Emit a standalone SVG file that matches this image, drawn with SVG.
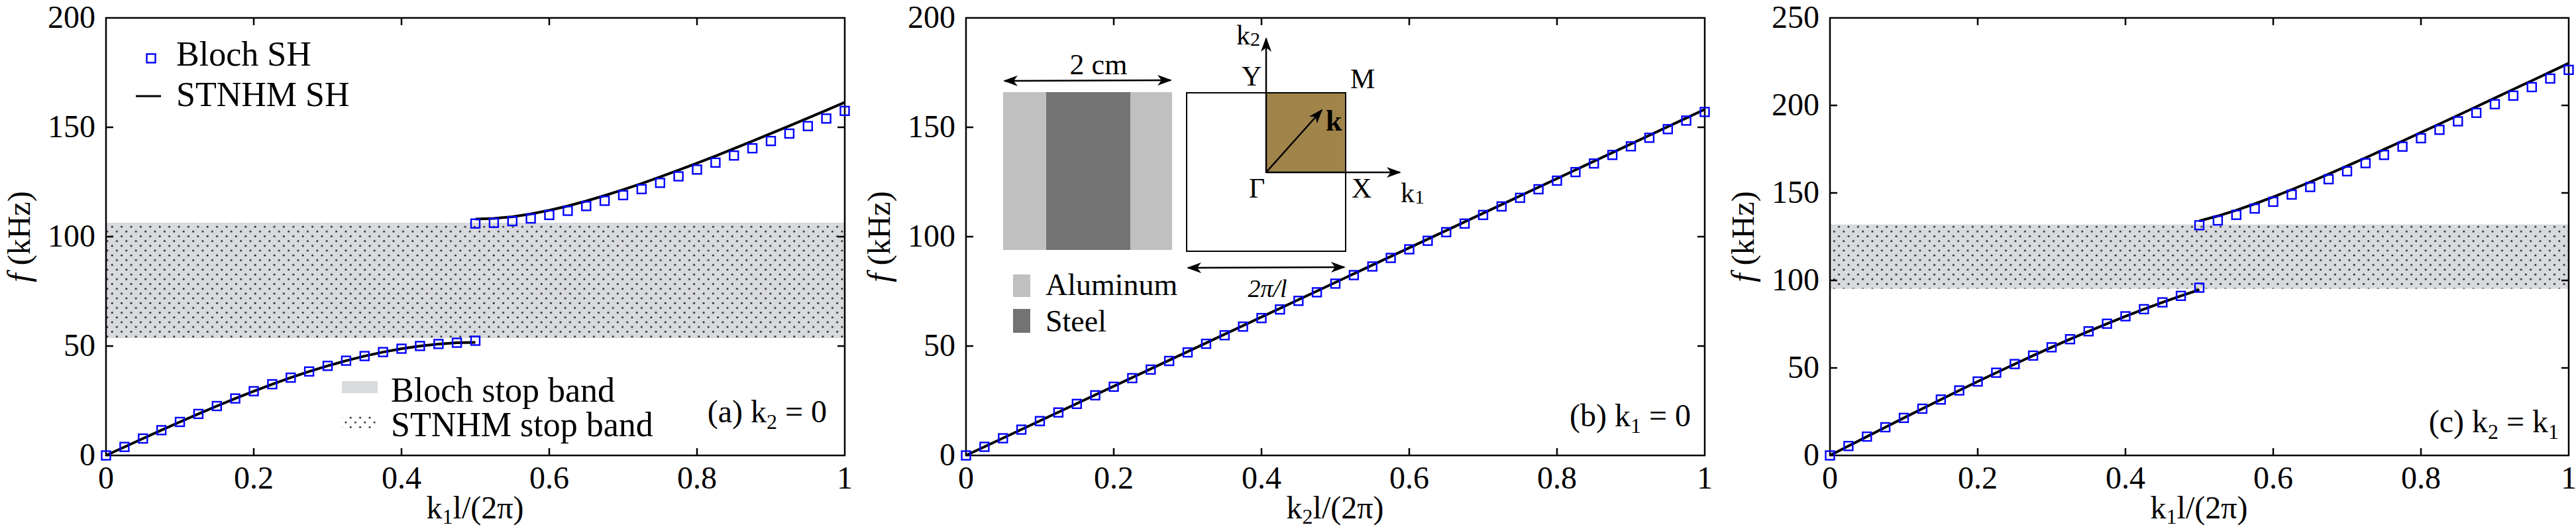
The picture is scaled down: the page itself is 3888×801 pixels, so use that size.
<svg xmlns="http://www.w3.org/2000/svg" width="3888" height="801" viewBox="0 0 3888 801" font-family="'Liberation Serif', 'Times New Roman', 'DejaVu Serif', serif">
<style>
text{font-family:'Liberation Serif','Times New Roman','DejaVu Serif',serif;fill:#000}
.t{font-size:48px}
.lg{font-size:52px}
.ax{fill:none;stroke:#000;stroke-width:2.5}
.tk{stroke:#000;stroke-width:2.5}
.cv{fill:none;stroke:#000;stroke-width:4}
.bl{fill:none;stroke:none;marker-start:url(#sq);marker-mid:url(#sq);marker-end:url(#sq)}
.yl{text-anchor:end}
.xl{text-anchor:middle}
</style>
<defs>
<marker id="sq" markerUnits="userSpaceOnUse" markerWidth="18" markerHeight="18" refX="9" refY="9" viewBox="0 0 18 18"><rect x="2.5" y="2.5" width="13" height="13" fill="none" stroke="#0000ff" stroke-width="2.4"/></marker>
<marker id="ah" markerUnits="userSpaceOnUse" markerWidth="22" markerHeight="16" refX="20" refY="8" orient="auto-start-reverse" viewBox="0 0 22 16"><path d="M0,0 L22,8 L0,16 L6,8 Z" fill="#000"/></marker>
<pattern id="dots" width="14.4" height="14.4" patternUnits="userSpaceOnUse"><circle cx="3.6" cy="3.6" r="1.5" fill="#222"/><circle cx="10.8" cy="10.8" r="1.5" fill="#222"/></pattern>
</defs>

<!-- Panel a -->
<g id="panel-a">
<rect x="160" y="336" width="1115" height="174" fill="#d8dadd"/>
<rect x="160" y="336" width="1115" height="174" fill="url(#dots)"/>
<rect class="ax" x="160" y="27" width="1115" height="660"/>
<path class="tk" d="M160,522h11M160,357h11M160,192h11M1275,522h-11M1275,357h-11M1275,192h-11M383,687v-11M606,687v-11M829,687v-11M1052,687v-11M383,27v11M606,27v11M829,27v11M1052,27v11"/>
<text class="t yl" x="144" y="702">0</text><text class="t yl" x="144" y="537">50</text><text class="t yl" x="144" y="372">100</text><text class="t yl" x="144" y="207">150</text><text class="t yl" x="144" y="42">200</text>
<text class="t xl" x="160" y="737">0</text><text class="t xl" x="383" y="737">0.2</text><text class="t xl" x="606" y="737">0.4</text><text class="t xl" x="829" y="737">0.6</text><text class="t xl" x="1052" y="737">0.8</text><text class="t xl" x="1275" y="737">1</text>
<text class="t xl" x="717" y="782">k<tspan font-size="32" dy="8">1</tspan><tspan dy="-8">l/(2π)</tspan></text>
<text class="t xl" transform="translate(45,357) rotate(-90)"><tspan font-style="italic">f</tspan> (kHz)</text>
<text class="t" x="1248" y="637" text-anchor="end">(a) k<tspan font-size="32" dy="10">2</tspan><tspan dy="-10"> = 0</tspan></text>
<polyline class="cv" points="160,687 187.9,674.2 215.8,661.5 243.6,648.9 271.5,636.5 299.4,624.4 327.3,612.5 355.1,601.1 383,590.1 410.9,579.6 438.8,569.7 466.6,560.4 494.5,551.9 522.4,544.1 550.3,537.1 578.1,531.1 606,526 633.9,521.9 661.8,518.9 689.6,517 717.5,516.4"/>
<polyline class="bl" points="160,687 187.9,674.2 215.8,661.5 243.6,648.9 271.5,636.5 299.4,624.4 327.3,612.5 355.1,601.1 383,590.1 410.9,579.6 438.8,569.7 466.6,560.4 494.5,551.9 522.4,544.1 550.3,537.1 578.1,531.1 606,526 633.9,521.9 661.8,518.9 689.6,517 717.5,514"/>
<polyline class="cv" points="717.5,330.6 745.4,329.6 773.3,326.9 801.1,322.7 829,317.2 856.9,310.7 884.8,303.2 912.6,295 940.5,286.2 968.4,276.8 996.3,266.9 1024.1,256.7 1052,246.1 1079.9,235.3 1107.8,224.2 1135.6,212.9 1163.5,201.4 1191.4,189.8 1219.3,178.1 1247.1,166.3 1275,154.3"/>
<polyline class="bl" points="717.5,337.2 745.4,336.2 773.3,333.6 801.1,329.6 829,324.3 856.9,318 884.8,310.8 912.6,302.9 940.5,294.4 968.4,285.3 996.3,275.8 1024.1,266 1052,255.8 1079.9,245.3 1107.8,234.6 1135.6,223.7 1163.5,212.7 1191.4,201.5 1219.3,190.2 1247.1,178.8 1275,167.3"/>
<g id="legend-a">
<polyline class="bl" points="228,88"/>
<text class="lg" x="266" y="99">Bloch SH</text>
<line x1="205" y1="145" x2="243" y2="145" stroke="#000" stroke-width="3"/>
<text class="lg" x="266" y="160">STNHM SH</text>
<rect x="516" y="575" width="54" height="18" fill="#d8dadd"/>
<text class="lg" x="590" y="606">Bloch stop band</text>
<rect x="516" y="626" width="54" height="20" fill="url(#dots)"/>
<text class="lg" x="590" y="658">STNHM stop band</text>
</g>
</g>

<!-- Panel b -->
<g id="panel-b">
<rect class="ax" x="1458" y="27" width="1115" height="660"/>
<path class="tk" d="M1458,522h11M1458,357h11M1458,192h11M2573,522h-11M2573,357h-11M2573,192h-11M1681,687v-11M1904,687v-11M2127,687v-11M2350,687v-11M1681,27v11M1904,27v11M2127,27v11M2350,27v11"/>
<text class="t yl" x="1442" y="702">0</text><text class="t yl" x="1442" y="537">50</text><text class="t yl" x="1442" y="372">100</text><text class="t yl" x="1442" y="207">150</text><text class="t yl" x="1442" y="42">200</text>
<text class="t xl" x="1458" y="737">0</text><text class="t xl" x="1681" y="737">0.2</text><text class="t xl" x="1904" y="737">0.4</text><text class="t xl" x="2127" y="737">0.6</text><text class="t xl" x="2350" y="737">0.8</text><text class="t xl" x="2573" y="737">1</text>
<text class="t xl" x="2015" y="782">k<tspan font-size="32" dy="8">2</tspan><tspan dy="-8">l/(2π)</tspan></text>
<text class="t xl" transform="translate(1343,357) rotate(-90)"><tspan font-style="italic">f</tspan> (kHz)</text>
<text class="t" x="2552" y="643" text-anchor="end">(b) k<tspan font-size="32" dy="10">1</tspan><tspan dy="-10"> = 0</tspan></text>
<line class="cv" x1="1458" y1="687" x2="2573" y2="165"/>
<polyline class="bl" points="1458,687 1485.9,674 1513.8,661.1 1541.6,648.1 1569.5,635.2 1597.4,622.2 1625.3,609.3 1653.1,596.3 1681,583.4 1708.9,570.4 1736.8,557.5 1764.6,544.5 1792.5,531.6 1820.4,518.6 1848.3,505.7 1876.1,492.7 1904,479.8 1931.9,466.8 1959.8,453.8 1987.6,440.9 2015.5,427.9 2043.4,415 2071.3,402 2099.1,389.1 2127,376.1 2154.9,363.2 2182.8,350.2 2210.6,337.3 2238.5,324.3 2266.4,311.4 2294.3,298.4 2322.1,285.5 2350,272.5 2377.9,259.6 2405.8,246.6 2433.6,233.7 2461.5,220.7 2489.4,207.8 2517.3,194.8 2545.1,181.9 2573,168.9"/>
<g id="inset">
<rect x="1514" y="139" width="255" height="238" fill="#c0c0c0"/>
<rect x="1579" y="139" width="127" height="238" fill="#737373"/>
<line x1="1516" y1="122" x2="1767" y2="121" stroke="#000" stroke-width="2.5" marker-start="url(#ah)" marker-end="url(#ah)"/>
<text x="1658" y="112" font-size="44" text-anchor="middle">2 cm</text>
<rect x="1529" y="414" width="26" height="34" fill="#c0c0c0"/>
<text x="1578" y="445" font-size="46">Aluminum</text>
<rect x="1529" y="466" width="26" height="36" fill="#737373"/>
<text x="1578" y="500" font-size="46">Steel</text>
<rect x="1791" y="140" width="240" height="239" fill="#fff" stroke="#000" stroke-width="2"/>
<rect x="1911" y="140" width="120" height="120" fill="#a0844a" stroke="#000" stroke-width="2"/>
<line x1="1911" y1="260" x2="1911" y2="58" stroke="#000" stroke-width="2.5" marker-end="url(#ah)"/>
<line x1="1911" y1="260" x2="2113" y2="260" stroke="#000" stroke-width="2.5" marker-end="url(#ah)"/>
<line x1="1911" y1="260" x2="1995" y2="166" stroke="#000" stroke-width="2.5" marker-end="url(#ah)"/>
<line x1="1793" y1="404" x2="2029" y2="403" stroke="#000" stroke-width="2.5" marker-start="url(#ah)" marker-end="url(#ah)"/>
<text x="1866" y="67" font-size="42">k<tspan font-size="30" dy="2">2</tspan></text>
<text x="1874" y="129" font-size="42">Y</text>
<text x="2038" y="133" font-size="42">M</text>
<text x="2001" y="197" font-size="44" font-weight="bold">k</text>
<text x="1885" y="298" font-size="42">Γ</text>
<text x="2040" y="298" font-size="42">X</text>
<text x="2114" y="305" font-size="42">k<tspan font-size="30" dy="2">1</tspan></text>
<text x="1913" y="448" font-size="38" font-style="italic" text-anchor="middle">2π/l</text>
</g>
</g>

<!-- Panel c -->
<g id="panel-c">
<rect x="2762" y="338.5" width="1115" height="97" fill="#d8dadd"/>
<rect x="2762" y="338.5" width="1115" height="97" fill="url(#dots)"/>
<rect class="ax" x="2762" y="27" width="1115" height="660"/>
<path class="tk" d="M2762,555h11M2762,423h11M2762,291h11M2762,159h11M3877,555h-11M3877,423h-11M3877,291h-11M3877,159h-11M2985,687v-11M3208,687v-11M3431,687v-11M3654,687v-11M2985,27v11M3208,27v11M3431,27v11M3654,27v11"/>
<text class="t yl" x="2746" y="702">0</text><text class="t yl" x="2746" y="570">50</text><text class="t yl" x="2746" y="438">100</text><text class="t yl" x="2746" y="306">150</text><text class="t yl" x="2746" y="174">200</text><text class="t yl" x="2746" y="42">250</text>
<text class="t xl" x="2762" y="737">0</text><text class="t xl" x="2985" y="737">0.2</text><text class="t xl" x="3208" y="737">0.4</text><text class="t xl" x="3431" y="737">0.6</text><text class="t xl" x="3654" y="737">0.8</text><text class="t xl" x="3877" y="737">1</text>
<text class="t xl" x="3319" y="782">k<tspan font-size="32" dy="8">1</tspan><tspan dy="-8">l/(2π)</tspan></text>
<text class="t xl" transform="translate(2647,357) rotate(-90)"><tspan font-style="italic">f</tspan> (kHz)</text>
<text class="t" x="3862" y="652" text-anchor="end">(c) k<tspan font-size="32" dy="10">2</tspan><tspan dy="-10"> = k</tspan><tspan font-size="32" dy="10">1</tspan></text>
<polyline class="cv" points="2762,687 2789.9,672.8 2817.8,658.6 2845.6,644.5 2873.5,630.4 2901.4,616.5 2929.3,602.7 2957.1,589 2985,575.5 3012.9,562.2 3040.8,549.2 3068.6,536.4 3096.5,523.9 3124.4,511.7 3152.3,499.8 3180.1,488.3 3208,477.1 3235.9,466.4 3263.8,456.1 3291.6,446.3 3319.5,437"/>
<polyline class="bl" points="2762,687 2789.9,672.8 2817.8,658.6 2845.6,644.5 2873.5,630.4 2901.4,616.5 2929.3,602.7 2957.1,589 2985,575.5 3012.9,562.2 3040.8,549.2 3068.6,536.4 3096.5,523.9 3124.4,511.7 3152.3,499.8 3180.1,488.3 3208,477.1 3235.9,466.4 3263.8,456.1 3291.6,446.3 3319.5,434"/>
<polyline class="cv" points="3319.5,333.2 3347.4,325.8 3375.3,317.2 3403.1,307.5 3431,297.1 3458.9,286 3486.8,274.5 3514.6,262.6 3542.5,250.4 3570.4,238 3598.3,225.4 3626.1,212.7 3654,199.9 3681.9,187 3709.8,174 3737.6,161 3765.5,147.9 3793.4,134.8 3821.3,121.7 3849.1,108.6 3877,95.4"/>
<polyline class="bl" points="3319.5,339.8 3347.4,332.6 3375.3,324.1 3403.1,314.6 3431,304.4 3458.9,293.5 3486.8,282.1 3514.6,270.4 3542.5,258.4 3570.4,246.1 3598.3,233.7 3626.1,221.2 3654,208.5 3681.9,195.8 3709.8,183 3737.6,170.2 3765.5,157.2 3793.4,144.3 3821.3,131.4 3849.1,118.5 3877,105.4"/>
</g>
</svg>
